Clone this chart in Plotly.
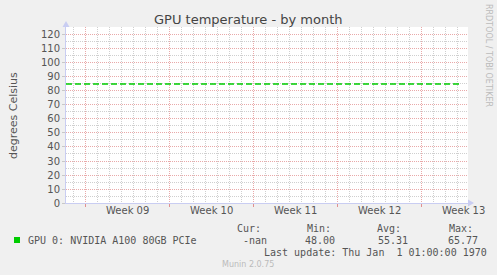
import datetime as dt
import plotly.graph_objects as go

# ---- data ----
week_numbers = [9, 10, 11, 12, 13]
week_labels = ["Week 09", "Week 10", "Week 11", "Week 12", "Week 13"]
line_times = ["2024-02-24 08:38", "2024-03-28 08:38"]
line_values = [85, 85]
series_name = "GPU 0: NVIDIA A100 80GB PCIe"
stat_headers = ["Cur:", "Min:", "Avg:", "Max:"]
stat_values = ["-nan", "48.00", "55.31", "65.77"]
x_range = ["2024-02-24 08:38", "2024-03-28 20:38"]
y_range = [0, 125.7]

week_mids = [dt.datetime.fromisocalendar(2024, w, 4) + dt.timedelta(hours=12) for w in week_numbers]
week_starts = [dt.datetime.fromisocalendar(2024, w, 1) for w in week_numbers]

W, H = 497, 275
L, R, T, B = 66, 468, 27, 203
PW, PH = R - L, B - T


def px(x):
    return (x - L) / PW


def py(y):
    return (B - y) / PH


GREEN = "#00CC00"
TXT = "#555555"
AXC = "#C9CDF2"
MAJ = "#E9A9A9"
MIN = "#CFCFCF"
DAY = 86400000

fig = go.Figure()
fig.add_trace(go.Scatter(x=line_times, y=line_values, mode="lines",
                         line=dict(color=GREEN, width=1.5, dash="6px,3px"),
                         hoverinfo="skip", showlegend=False))
fig.add_trace(go.Scatter(x=line_times, y=line_values, mode="lines", xaxis="x2",
                         line=dict(width=0), opacity=0, hoverinfo="skip", showlegend=False))

fig.update_layout(
    width=W, height=H,
    margin=dict(l=L, r=W - R, t=T, b=H - B),
    paper_bgcolor="#F0F0F0", plot_bgcolor="#FFFFFF",
    font=dict(family="DejaVu Sans", size=10, color=TXT),
    xaxis=dict(type="date", range=x_range, tickvals=week_starts, showticklabels=False,
               showgrid=True, gridcolor=MAJ, griddash="1px,1px", gridwidth=1,
               ticks="outside", ticklen=3, tickcolor="#E09090",
               showline=True, linecolor=AXC, linewidth=1, zeroline=False,
               minor=dict(dtick=DAY, tick0="2024-02-26", showgrid=True,
                          gridcolor=MIN, griddash="1px,1px", ticks="")),
    xaxis2=dict(type="date", range=x_range, overlaying="x", anchor="y", side="bottom",
                tickvals=week_mids, ticktext=week_labels, showgrid=False, ticks="",
                tickfont=dict(size=10, color=TXT), showline=False, zeroline=False),
    yaxis=dict(range=y_range, dtick=10, tick0=0, showgrid=True, gridcolor=MAJ,
               griddash="1px,1px", ticks="outside", ticklen=3, tickcolor="#C8C8C8",
               showline=True, linecolor=AXC, linewidth=1, zeroline=False,
               tickfont=dict(size=10, color=TXT),
               minor=dict(dtick=5, showgrid=True, gridcolor=MIN, griddash="1px,1px", ticks="")),
)

shapes = [
    # y-axis arrow
    dict(type="path", xref="paper", yref="paper",
         path=f"M {px(62.5)},{py(27)} L {px(69.5)},{py(27)} L {px(66)},{py(21)} Z",
         fillcolor=AXC, line=dict(width=0)),
    # x-axis arrow
    dict(type="path", xref="paper", yref="paper",
         path=f"M {px(468)},{py(199.5)} L {px(468)},{py(206.5)} L {px(474)},{py(203)} Z",
         fillcolor=AXC, line=dict(width=0)),
    # legend swatch
    dict(type="rect", xref="paper", yref="paper",
         x0=px(14), x1=px(20), y0=py(243), y1=py(237),
         fillcolor=GREEN, line=dict(width=0)),
]
fig.update_layout(shapes=shapes)

mono = "DejaVu Sans Mono"
ann = []


def add(text, x, y, size=10, color=TXT, family="DejaVu Sans", xanchor="left", angle=0):
    ann.append(dict(text=text, x=px(x), y=py(y), xref="paper", yref="paper",
                    xanchor=xanchor, yanchor="middle", showarrow=False,
                    textangle=angle, font=dict(family=family, size=size, color=color)))


add("GPU temperature - by month", 248, 19, size=13, color="#444444", xanchor="center")
add("degrees Celsius", 13, 115, size=11, color=TXT, xanchor="center", angle=-90)
add("RRDTOOL / TOBI OETIKER", 488, 55, size=8, color="#BBBBBB", xanchor="center", angle=90)
add(series_name, 26, 240, family=mono)
header_x = [235, 305, 375, 447]
value_x = [241, 303, 376, 446]
for h, v, hx, vx in zip(stat_headers, stat_values, header_x, value_x):
    add(h, hx, 228, family=mono)
    add(v, vx, 240, family=mono)
add("Last update: Thu Jan  1 01:00:00 1970", 262, 252, family=mono)
add("Munin 2.0.75", 248, 264, size=8, color="#BBBBBB", xanchor="center")
fig.update_layout(annotations=ann)

fig.write_html("out.html")
